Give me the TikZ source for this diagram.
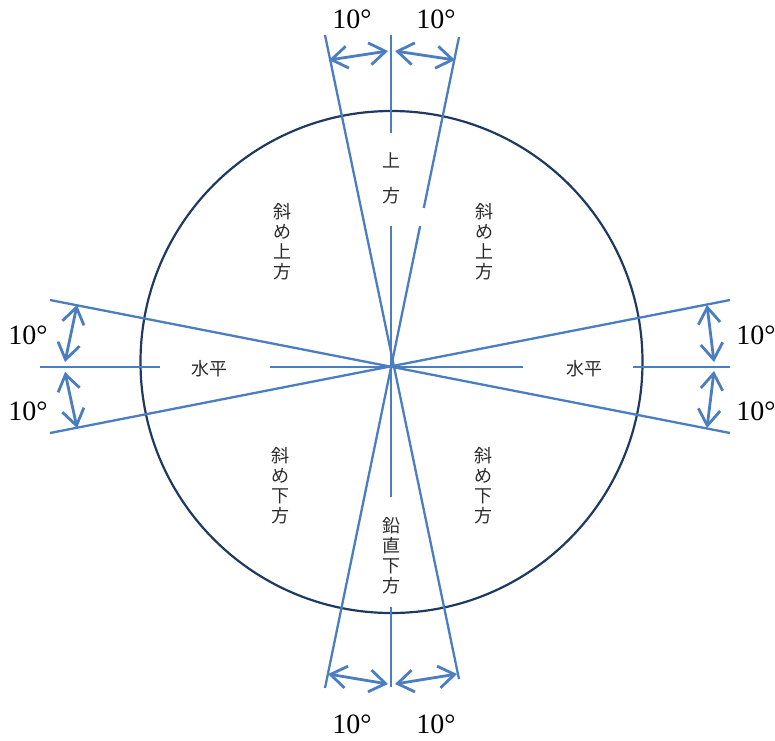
\documentclass[tikz,border=0pt]{standalone}
\usepackage{fontspec}
\setmainfont{Liberation Serif}
\newfontfamily\jp{Noto Sans CJK JP}
\usetikzlibrary{arrows.meta}
\definecolor{lineblue}{HTML}{4A7EC0}
\definecolor{navy}{HTML}{1F3A60}
\definecolor{txt}{HTML}{2A2A2A}
\begin{document}
\begin{tikzpicture}[x=1pt,y=-1pt,
  ray/.style={draw=lineblue, line width=2.3pt},
  dim/.style={draw=lineblue, line width=2.8pt,
    {Straight Barb[length=16pt,width=22pt]}-{Straight Barb[length=16pt,width=22pt]}},
  deg/.style={font=\fontsize{28}{30}\selectfont, inner sep=0pt, text=black},
  jlab/.style={font=\jp\fontsize{18}{20}\selectfont, text=txt, align=center, inner sep=0pt},
]
\useasboundingbox (0,0) rectangle (775,740);
\draw[draw=navy, line width=2.2pt] (391.5,362) circle (251);
% slanted lines near vertical
\draw[ray] (325,35) -- (459,679);
\draw[ray] (459,37) -- (423.8,208);
\draw[ray] (420.1,226) -- (325,688);
% slanted lines near horizontal
\draw[ray] (50,300) -- (730,433);
\draw[ray] (50,433) -- (730,300);
% vertical axis
\draw[ray] (391,35) -- (391,133);
\draw[ray] (391,226) -- (391,497);
\draw[ray] (391,607) -- (391,687);
% horizontal axis
\draw[ray] (40,367) -- (160,367);
\draw[ray] (270,367) -- (523,367);
\draw[ray] (633,367) -- (730,367);
% dimension arrows
\coordinate (t1) at (329,60); \coordinate (t2) at (388,51);
\coordinate (t3) at (395,51); \coordinate (t4) at (455,60);
\coordinate (b1) at (328,674); \coordinate (b2) at (388,684);
\coordinate (b3) at (395,684); \coordinate (b4) at (457,674);
\coordinate (l1) at (77,305); \coordinate (l2) at (65,362);
\coordinate (l3) at (65,372); \coordinate (l4) at (77,428);
\coordinate (r1) at (707,305); \coordinate (r2) at (714,362);
\coordinate (r3) at (714,371); \coordinate (r4) at (707,428);
\draw[dim] (t1) -- (t2);
\draw[dim] (t3) -- (t4);
\draw[dim] (b1) -- (b2);
\draw[dim] (b3) -- (b4);
\draw[dim] (l1) -- (l2);
\draw[dim] (l3) -- (l4);
\draw[dim] (r1) -- (r2);
\draw[dim] (r3) -- (r4);
% degree labels
\node[deg] (dt1) at (352,19) {10°};
\node[deg] (dt2) at (436,19) {10°};
\node[deg] (db1) at (352,724) {10°};
\node[deg] (db2) at (436,724) {10°};
\node[deg] (dl1) at (28,335) {10°};
\node[deg] (dl2) at (28,411) {10°};
\node[deg] (dr1) at (756,335) {10°};
\node[deg] (dr2) at (756,411) {10°};
% Japanese labels
\node[jlab] (up1) at (391,160) {上};
\node[jlab] (up2) at (391,196) {方};
\node[jlab] (ul) at (282,242) {斜\\め\\上\\方};
\node[jlab] (ur) at (484,242) {斜\\め\\上\\方};
\node[jlab] (dl) at (280,486) {斜\\め\\下\\方};
\node[jlab] (dr) at (483,486) {斜\\め\\下\\方};
\node[jlab] (vd) at (391,556) {鉛\\直\\下\\方};
\node[jlab] (hl) at (209,369) {水平};
\node[jlab] (hr) at (584,369) {水平};
\end{tikzpicture}
\end{document}
